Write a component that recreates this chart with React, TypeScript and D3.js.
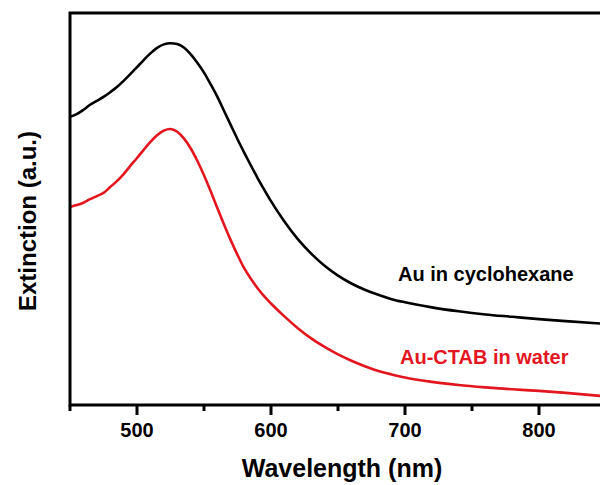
import React, { useEffect, useRef } from 'react';
import * as d3 from 'd3';

// Wavelength grid (nm) shared by both spectra
const wavelengths = [
  450, 455, 460, 465, 470, 475, 480, 485, 490, 495, 500, 505, 510, 515, 520, 525, 530, 535,
  540, 545, 550, 555, 560, 565, 570, 575, 580, 585, 590, 595, 600, 610, 620, 630,
  640, 650, 660, 670, 680, 690, 700, 720, 740, 760, 780, 800, 820, 850,
];

// Extinction (a.u.) - Au in cyclohexane
const cyclohexane = [
  0.735, 0.742, 0.753, 0.766, 0.776, 0.786, 0.798, 0.811, 0.827, 0.844, 0.862, 0.88, 0.897, 0.911, 0.92, 0.923, 0.921, 0.912,
  0.895, 0.873, 0.848, 0.818, 0.786, 0.75, 0.714, 0.678, 0.644, 0.611, 0.579, 0.549, 0.52, 0.468, 0.423, 0.386,
  0.355, 0.33, 0.31, 0.294, 0.281, 0.27, 0.262, 0.249, 0.239, 0.231, 0.225, 0.219, 0.214, 0.207,
];

// Extinction (a.u.) - Au-CTAB in water
const ctabWater = [
  0.505, 0.51, 0.516, 0.525, 0.533, 0.541, 0.556, 0.571, 0.589, 0.61, 0.63, 0.651, 0.671, 0.688, 0.7, 0.704, 0.697, 0.68,
  0.655, 0.623, 0.586, 0.545, 0.502, 0.46, 0.42, 0.383, 0.349, 0.322, 0.298, 0.277, 0.259, 0.226, 0.196, 0.17,
  0.148, 0.129, 0.113, 0.099, 0.087, 0.078, 0.07, 0.059, 0.051, 0.045, 0.04, 0.036, 0.031, 0.022,
];

const majorTicks = [500, 600, 700, 800];
const minorTicks = [450, 550, 650, 750, 850];

const seriesNames = ['Au in cyclohexane', 'Au-CTAB in water'];

const RED = '#e3161f';

const SpectraChart: React.FC = () => {
  const ref = useRef<SVGSVGElement>(null);

  useEffect(() => {
    if (!ref.current) return;
    const svg = d3.select(ref.current);
    svg.selectAll('*').remove();

    const left = 70, top = 13, bottom = 405;
    const font = 'Liberation Sans, Arial, sans-serif';

    const x = d3.scaleLinear().domain([450, 850]).range([left, left + 536]);
    const y = d3.scaleLinear().domain([0, 1]).range([bottom, top]);

    const line = d3.line<number>()
      .x((_, i) => x(wavelengths[i]))
      .y(d => y(d))
      .curve(d3.curveMonotoneX);

    // courbes
    svg.append('path')
      .attr('d', line(cyclohexane))
      .attr('fill', 'none')
      .attr('stroke', '#000')
      .attr('stroke-width', 2.6);

    svg.append('path')
      .attr('d', line(ctabWater))
      .attr('fill', 'none')
      .attr('stroke', RED)
      .attr('stroke-width', 2.6);

    // cadre (haut, gauche, bas)
    svg.append('path')
      .attr('d', `M${left},${bottom} V${top} H620 M${left - 1.5},${bottom} H620`)
      .attr('fill', 'none')
      .attr('stroke', '#000')
      .attr('stroke-width', 3);

    // graduations
    svg.selectAll('.major')
      .data(majorTicks)
      .enter().append('line')
      .attr('x1', d => x(d)).attr('x2', d => x(d))
      .attr('y1', bottom).attr('y2', bottom + 10)
      .attr('stroke', '#000').attr('stroke-width', 3);

    svg.selectAll('.minor')
      .data(minorTicks)
      .enter().append('line')
      .attr('x1', d => x(d)).attr('x2', d => x(d))
      .attr('y1', bottom).attr('y2', bottom + 6)
      .attr('stroke', '#000').attr('stroke-width', 3);

    svg.selectAll('.tick-label')
      .data(majorTicks)
      .enter().append('text')
      .attr('x', d => x(d))
      .attr('y', 437)
      .attr('text-anchor', 'middle')
      .attr('font-family', font)
      .attr('font-weight', 'bold')
      .attr('font-size', 20)
      .text(d => d);

    // titres des axes
    svg.append('text')
      .attr('x', 342)
      .attr('y', 477)
      .attr('text-anchor', 'middle')
      .attr('font-family', font)
      .attr('font-weight', 'bold')
      .attr('font-size', 25)
      .text('Wavelength (nm)');

    svg.append('text')
      .attr('transform', 'translate(36,221) rotate(-90)')
      .attr('text-anchor', 'middle')
      .attr('font-family', font)
      .attr('font-weight', 'bold')
      .attr('font-size', 24)
      .text('Extinction (a.u.)');

    // légendes
    svg.append('text')
      .attr('x', 398)
      .attr('y', 281)
      .attr('font-family', font)
      .attr('font-weight', 'bold')
      .attr('font-size', 20)
      .attr('fill', '#000')
      .text(seriesNames[0]);

    svg.append('text')
      .attr('x', 400)
      .attr('y', 364)
      .attr('font-family', font)
      .attr('font-weight', 'bold')
      .attr('font-size', 20)
      .attr('fill', RED)
      .text(seriesNames[1]);
  }, []);

  return <svg ref={ref} width={600} height={485} style={{ display: 'block', background: '#fff' }} />;
};

export default function App() {
  return (
    <div style={{ position: 'absolute', left: 0, top: 0, width: 600, height: 485, overflow: 'hidden', background: '#fff' }}>
      <SpectraChart />
    </div>
  );
}
